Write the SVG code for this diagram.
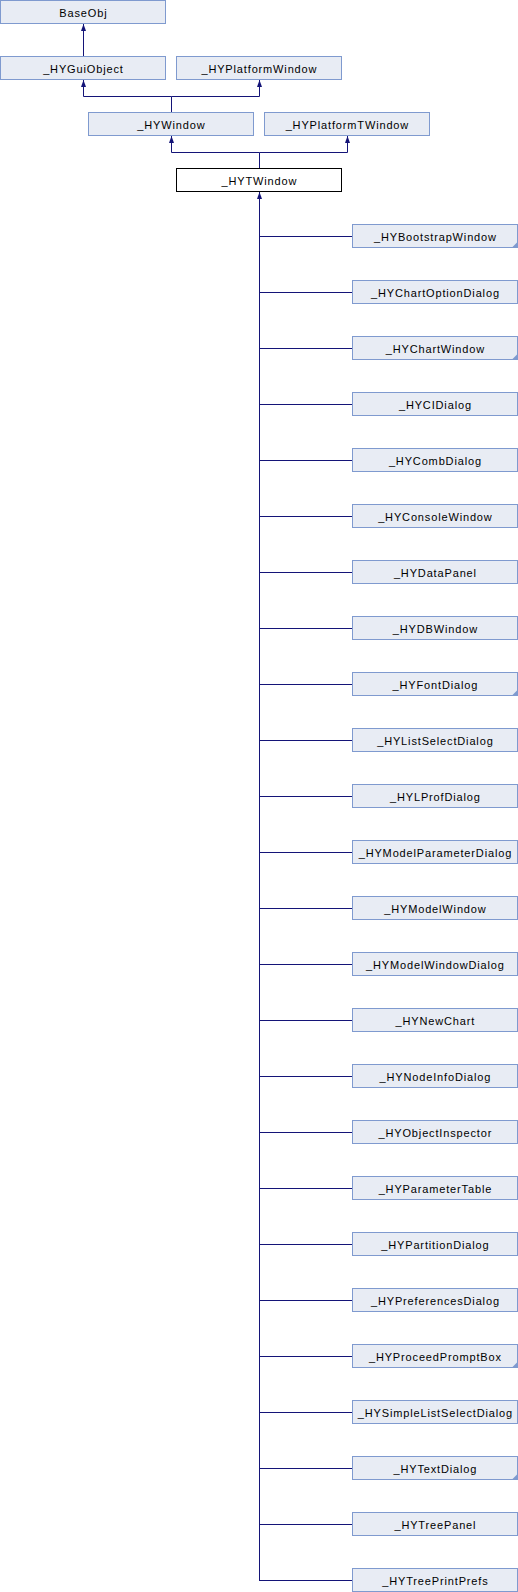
<svg xmlns="http://www.w3.org/2000/svg" width="518" height="1592" viewBox="0 0 518 1592">
<style>
.n rect{fill:#e8ecf4;stroke:#7f9acf;stroke-width:1}
.n.main rect{fill:#ffffff;stroke:#000000}
.n text{font-family:"Liberation Sans",Arial,sans-serif;font-size:11px;letter-spacing:0.85px;fill:#000000;text-anchor:middle}
.e{fill:none;stroke:#141478;stroke-width:1}
.c{fill:#7f9acf}
</style>
<defs>
<marker id="ah" viewBox="0 0 7 5" refX="7" refY="2.5" markerWidth="7" markerHeight="5" markerUnits="userSpaceOnUse" orient="auto">
<path d="M0,0 L7,2.5 L0,5 z" fill="#141478"/>
</marker>
</defs>
<rect width="518" height="1592" fill="#ffffff"/>
<g id="connectors">
<path class="e" d="M83.5,56 V24" marker-end="url(#ah)"/>
<path class="e" d="M171.5,112 V96.5 H83.5 V80" marker-end="url(#ah)"/>
<path class="e" d="M171.5,96.5 H259.5 V80" marker-end="url(#ah)"/>
<path class="e" d="M259.5,168 V152.5 H171.5 V136" marker-end="url(#ah)"/>
<path class="e" d="M259.5,152.5 H347.5 V136" marker-end="url(#ah)"/>
<path class="e" d="M259.5,1580.5 V192" marker-end="url(#ah)"/>
<path class="e" d="M352,236.5 H259 M352,292.5 H259 M352,348.5 H259 M352,404.5 H259 M352,460.5 H259 M352,516.5 H259 M352,572.5 H259 M352,628.5 H259 M352,684.5 H259 M352,740.5 H259 M352,796.5 H259 M352,852.5 H259 M352,908.5 H259 M352,964.5 H259 M352,1020.5 H259 M352,1076.5 H259 M352,1132.5 H259 M352,1188.5 H259 M352,1244.5 H259 M352,1300.5 H259 M352,1356.5 H259 M352,1412.5 H259 M352,1468.5 H259 M352,1524.5 H259 M352,1580.5 H259"/>
</g>
<g id="BaseObj" class="n"><rect x="0.5" y="0.5" width="165" height="23"/><text x="83.4" y="16.5">BaseObj</text></g>
<g id="HYGuiObject" class="n"><rect x="0.5" y="56.5" width="165" height="23"/><text x="83.4" y="72.5">_HYGuiObject</text></g>
<g id="HYPlatformWindow" class="n"><rect x="176.5" y="56.5" width="165" height="23"/><text x="259.4" y="72.5">_HYPlatformWindow</text></g>
<g id="HYWindow" class="n"><rect x="88.5" y="112.5" width="165" height="23"/><text x="171.4" y="128.5">_HYWindow</text></g>
<g id="HYPlatformTWindow" class="n"><rect x="264.5" y="112.5" width="165" height="23"/><text x="347.4" y="128.5">_HYPlatformTWindow</text></g>
<g id="HYTWindow" class="n main"><rect x="176.5" y="168.5" width="165" height="23"/><text x="259.4" y="184.5">_HYTWindow</text></g>
<g id="HYBootstrapWindow" class="n"><rect x="352.5" y="224.5" width="165" height="23"/><text x="435.4" y="240.5">_HYBootstrapWindow</text><polygon class="c" points="517.5,242 517.5,247.5 512,247.5"/></g>
<g id="HYChartOptionDialog" class="n"><rect x="352.5" y="280.5" width="165" height="23"/><text x="435.4" y="296.5">_HYChartOptionDialog</text></g>
<g id="HYChartWindow" class="n"><rect x="352.5" y="336.5" width="165" height="23"/><text x="435.4" y="352.5">_HYChartWindow</text><polygon class="c" points="517.5,354 517.5,359.5 512,359.5"/></g>
<g id="HYCIDialog" class="n"><rect x="352.5" y="392.5" width="165" height="23"/><text x="435.4" y="408.5">_HYCIDialog</text></g>
<g id="HYCombDialog" class="n"><rect x="352.5" y="448.5" width="165" height="23"/><text x="435.4" y="464.5">_HYCombDialog</text></g>
<g id="HYConsoleWindow" class="n"><rect x="352.5" y="504.5" width="165" height="23"/><text x="435.4" y="520.5">_HYConsoleWindow</text></g>
<g id="HYDataPanel" class="n"><rect x="352.5" y="560.5" width="165" height="23"/><text x="435.4" y="576.5">_HYDataPanel</text></g>
<g id="HYDBWindow" class="n"><rect x="352.5" y="616.5" width="165" height="23"/><text x="435.4" y="632.5">_HYDBWindow</text></g>
<g id="HYFontDialog" class="n"><rect x="352.5" y="672.5" width="165" height="23"/><text x="435.4" y="688.5">_HYFontDialog</text><polygon class="c" points="517.5,690 517.5,695.5 512,695.5"/></g>
<g id="HYListSelectDialog" class="n"><rect x="352.5" y="728.5" width="165" height="23"/><text x="435.4" y="744.5">_HYListSelectDialog</text></g>
<g id="HYLProfDialog" class="n"><rect x="352.5" y="784.5" width="165" height="23"/><text x="435.4" y="800.5">_HYLProfDialog</text></g>
<g id="HYModelParameterDialog" class="n"><rect x="352.5" y="840.5" width="165" height="23"/><text x="435.4" y="856.5">_HYModelParameterDialog</text></g>
<g id="HYModelWindow" class="n"><rect x="352.5" y="896.5" width="165" height="23"/><text x="435.4" y="912.5">_HYModelWindow</text></g>
<g id="HYModelWindowDialog" class="n"><rect x="352.5" y="952.5" width="165" height="23"/><text x="435.4" y="968.5">_HYModelWindowDialog</text></g>
<g id="HYNewChart" class="n"><rect x="352.5" y="1008.5" width="165" height="23"/><text x="435.4" y="1024.5">_HYNewChart</text></g>
<g id="HYNodeInfoDialog" class="n"><rect x="352.5" y="1064.5" width="165" height="23"/><text x="435.4" y="1080.5">_HYNodeInfoDialog</text></g>
<g id="HYObjectInspector" class="n"><rect x="352.5" y="1120.5" width="165" height="23"/><text x="435.4" y="1136.5">_HYObjectInspector</text></g>
<g id="HYParameterTable" class="n"><rect x="352.5" y="1176.5" width="165" height="23"/><text x="435.4" y="1192.5">_HYParameterTable</text></g>
<g id="HYPartitionDialog" class="n"><rect x="352.5" y="1232.5" width="165" height="23"/><text x="435.4" y="1248.5">_HYPartitionDialog</text></g>
<g id="HYPreferencesDialog" class="n"><rect x="352.5" y="1288.5" width="165" height="23"/><text x="435.4" y="1304.5">_HYPreferencesDialog</text></g>
<g id="HYProceedPromptBox" class="n"><rect x="352.5" y="1344.5" width="165" height="23"/><text x="435.4" y="1360.5">_HYProceedPromptBox</text><polygon class="c" points="517.5,1362 517.5,1367.5 512,1367.5"/></g>
<g id="HYSimpleListSelectDialog" class="n"><rect x="352.5" y="1400.5" width="165" height="23"/><text x="435.4" y="1416.5">_HYSimpleListSelectDialog</text></g>
<g id="HYTextDialog" class="n"><rect x="352.5" y="1456.5" width="165" height="23"/><text x="435.4" y="1472.5">_HYTextDialog</text><polygon class="c" points="517.5,1474 517.5,1479.5 512,1479.5"/></g>
<g id="HYTreePanel" class="n"><rect x="352.5" y="1512.5" width="165" height="23"/><text x="435.4" y="1528.5">_HYTreePanel</text></g>
<g id="HYTreePrintPrefs" class="n"><rect x="352.5" y="1568.5" width="165" height="23"/><text x="435.4" y="1584.5">_HYTreePrintPrefs</text></g>
</svg>
